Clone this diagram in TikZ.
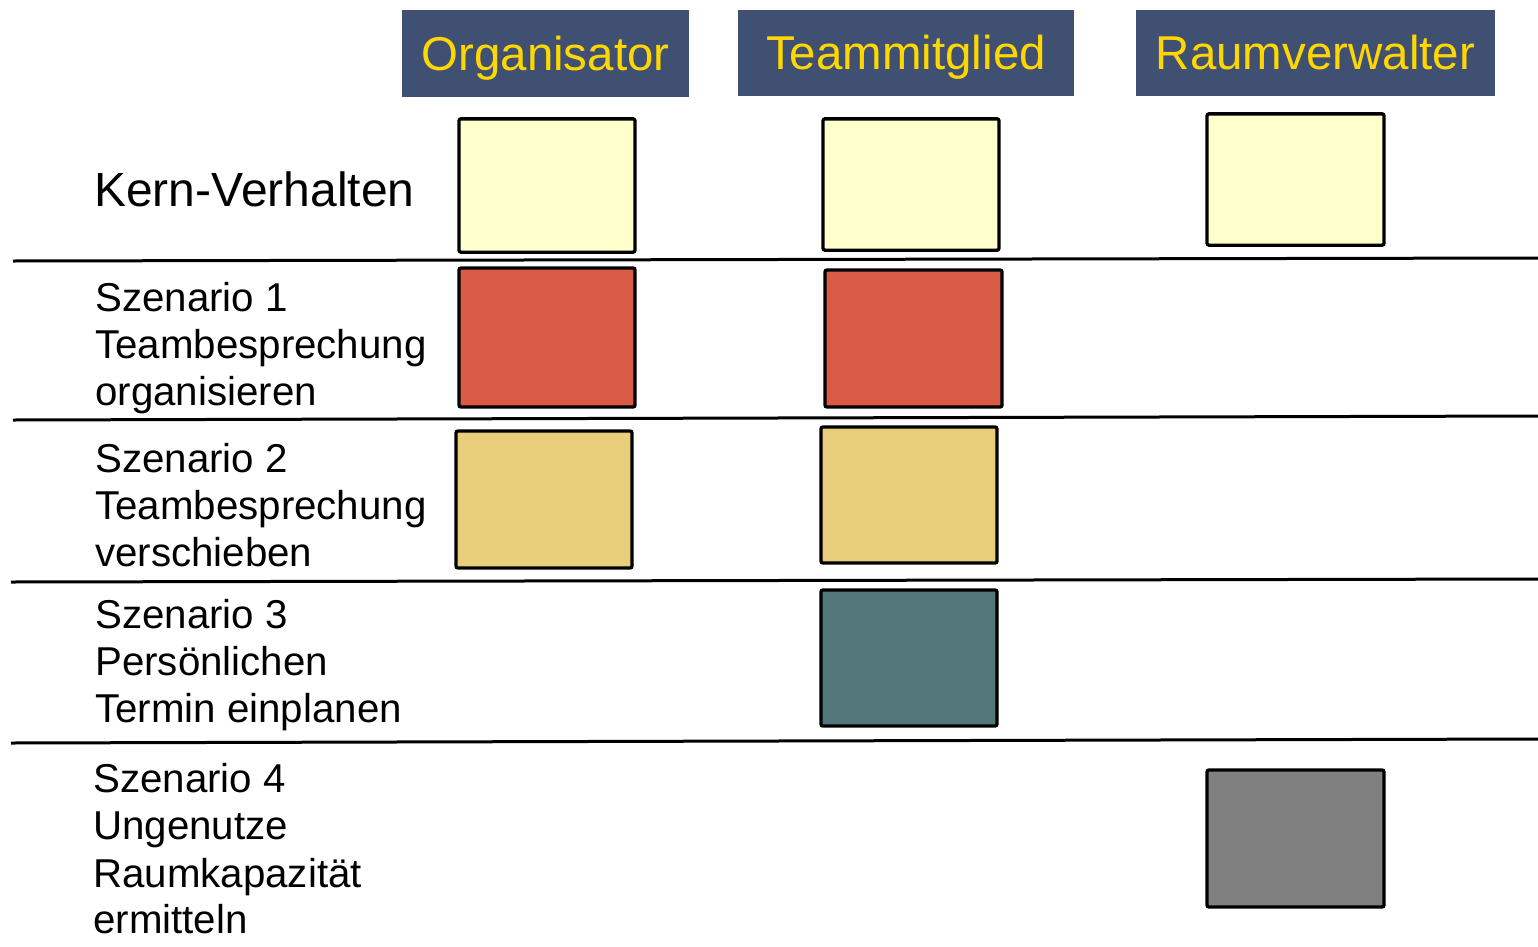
\documentclass[tikz,border=0pt]{standalone}
\usepackage{fontspec}
\setmainfont{Liberation Sans}
\definecolor{hdr}{HTML}{3F5073}
\definecolor{hdrtext}{HTML}{FFD700}
\definecolor{cream}{HTML}{FFFFCC}
\definecolor{redc}{HTML}{D95B45}
\definecolor{tanc}{HTML}{E8CE7A}
\definecolor{tealc}{HTML}{537779}
\definecolor{greyc}{HTML}{808080}
\tikzset{
  hdrbox/.style={fill=hdr, text=hdrtext, inner sep=0pt, font=\fontsize{35.6}{40}\selectfont, text height=25.4pt, text depth=0pt},
  cell/.style={draw=black, line width=2.5pt, rounded corners=1.5pt, inner sep=0pt},
  rowline/.style={draw=black, line width=2.25pt},
  lbl/.style={anchor=base west, inner sep=0pt, font=\fontsize{30.2}{36}\selectfont},
  kern/.style={anchor=base west, inner sep=0pt, font=\fontsize{36}{42}\selectfont}
}
\begin{document}
\begin{tikzpicture}[x=0.75pt, y=-0.75pt]
\useasboundingbox (0,0) rectangle (1538,946);
% headers
\node[hdrbox, minimum width=215.25pt, minimum height=65.25pt] (hOrg) at (545.5,53.5) {Organisator};
\node[hdrbox, minimum width=252pt, minimum height=64.5pt] (hTeam) at (906,53) {Teammitglied};
\node[hdrbox, minimum width=269.25pt, minimum height=64.5pt] (hRaum) at (1315.5,53) {Raumverwalter};
% row labels
\node[kern] (kern) at (94,206) {Kern-Verhalten};
\node[lbl] (s1a) at (95,311) {Szenario 1};
\node[lbl] (s1b) at (95,358) {Teambesprechung};
\node[lbl] (s1c) at (95,405) {organisieren};
\node[lbl] (s2a) at (95,472) {Szenario 2};
\node[lbl] (s2b) at (95,519) {Teambesprechung};
\node[lbl] (s2c) at (95,566) {verschieben};
\node[lbl] (s3a) at (95,628) {Szenario 3};
\node[lbl] (s3b) at (95,675) {Persönlichen};
\node[lbl] (s3c) at (95,722) {Termin einplanen};
\node[lbl] (s4a) at (93,792) {Szenario 4};
\node[lbl] (s4b) at (93,839.5) {Ungenutze};
\node[lbl] (s4c) at (93,887) {Raumkapazität};
\node[lbl] (s4d) at (93,933) {ermitteln};
% row separators
\coordinate (l1a) at (13,261); \coordinate (l1b) at (1538,258);
\coordinate (l2a) at (13,420); \coordinate (l2b) at (1538,416);
\coordinate (l3a) at (11,582); \coordinate (l3b) at (1538,579);
\coordinate (l4a) at (11,743); \coordinate (l4b) at (1538,739);
\draw[rowline] (l1a) -- (l1b);
\draw[rowline] (l2a) -- (l2b);
\draw[rowline] (l3a) -- (l3b);
\draw[rowline] (l4a) -- (l4b);
% cells
\node[cell, fill=cream, minimum width=132pt, minimum height=100pt] (kOrg) at (547,185.5) {};
\node[cell, fill=cream, minimum width=132pt, minimum height=98.5pt] (kTeam) at (911,184.5) {};
\node[cell, fill=cream, minimum width=132.75pt, minimum height=98.5pt] (kRaum) at (1295.5,179.5) {};
\node[cell, fill=redc, minimum width=132pt, minimum height=104.25pt] (s1Org) at (547,337.5) {};
\node[cell, fill=redc, minimum width=132.75pt, minimum height=102.75pt] (s1Team) at (913.5,338.5) {};
\node[cell, fill=tanc, minimum width=132pt, minimum height=102.75pt] (s2Org) at (544,499.5) {};
\node[cell, fill=tanc, minimum width=132pt, minimum height=102pt] (s2Team) at (909,495) {};
\node[cell, fill=tealc, minimum width=132pt, minimum height=102pt] (s3Team) at (909,658) {};
\node[cell, fill=greyc, minimum width=132.75pt, minimum height=102.75pt] (s4Raum) at (1295.5,838.5) {};
\end{tikzpicture}
\end{document}
